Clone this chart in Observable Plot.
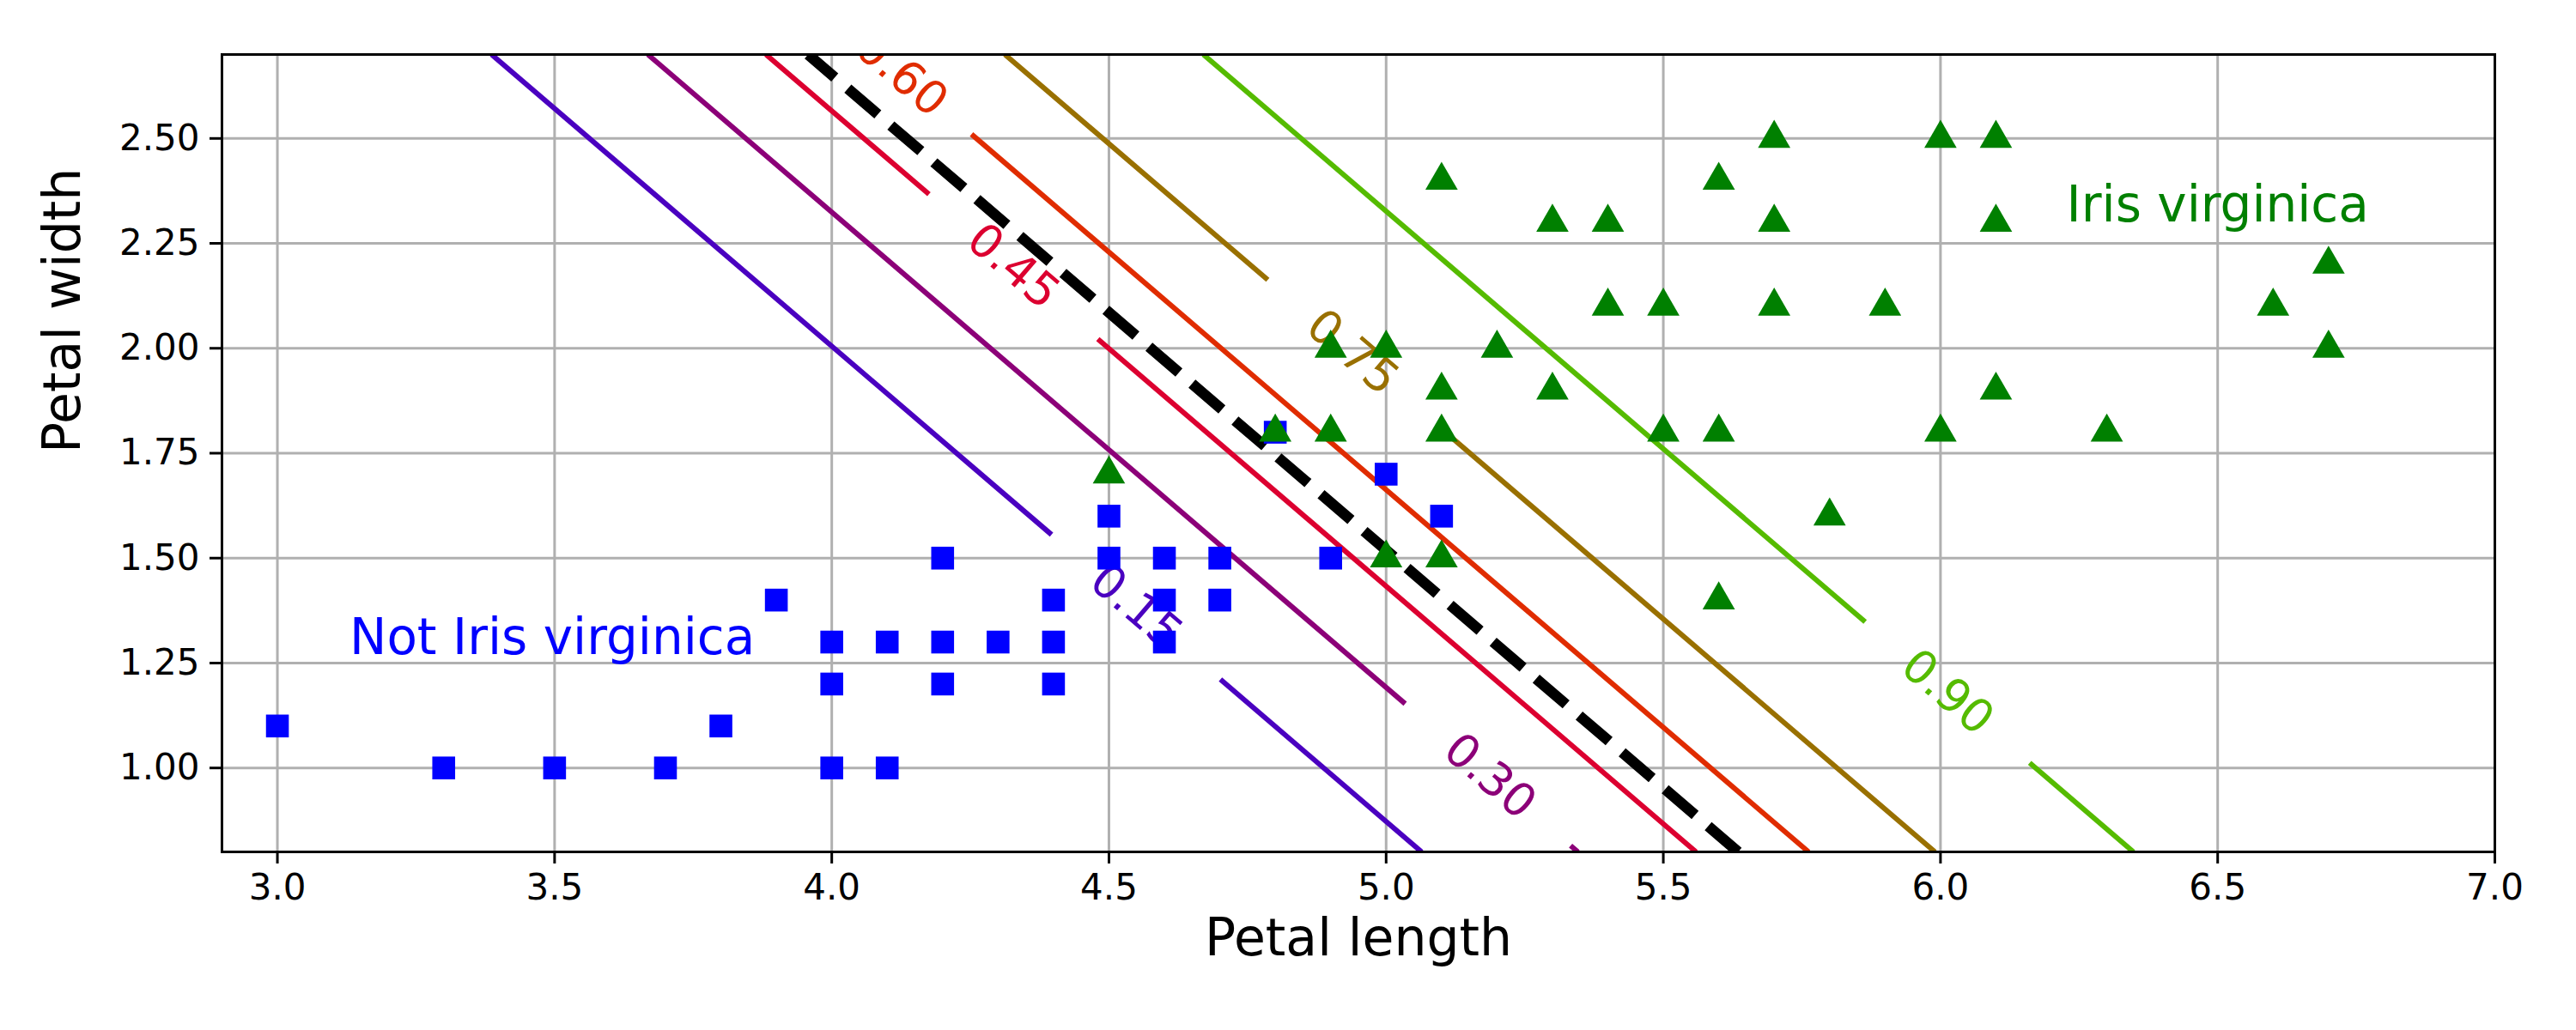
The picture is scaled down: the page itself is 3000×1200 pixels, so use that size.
<!DOCTYPE html>
<html>
<head>
<meta charset="utf-8">
<script src="https://cdn.jsdelivr.net/npm/d3@7"></script>
<script src="https://cdn.jsdelivr.net/npm/@observablehq/plot@0.6"></script>
<style>body{margin:0;background:#fff}</style>
</head>
<body>
<div id="chart"></div>
<script>
// blue squares: not Iris virginica
const notLen = [3.0,3.3,3.5,3.7,3.8,3.9,4.0,4.0,4.0,4.1,4.1,4.2,4.2,4.2,4.3,4.4,4.4,4.4,4.5,4.5,4.6,4.6,4.6,4.7,4.7,4.8,4.9,5.0,5.1];
const notWid = [1.1,1.0,1.0,1.0,1.1,1.4,1.3,1.2,1.0,1.3,1.0,1.5,1.3,1.2,1.3,1.4,1.3,1.2,1.6,1.5,1.5,1.4,1.3,1.5,1.4,1.8,1.5,1.7,1.6];
// green triangles: Iris virginica
const virLen = [4.5,4.8,4.9,4.9,5.0,5.0,5.1,5.1,5.1,5.1,5.2,5.3,5.3,5.4,5.4,5.5,5.5,5.6,5.6,5.6,5.7,5.7,5.7,5.8,5.9,6.0,6.0,6.1,6.1,6.1,6.3,6.6,6.7,6.7];
const virWid = [1.7,1.8,2.0,1.8,2.0,1.5,2.4,1.9,1.8,1.5,2.0,2.3,1.9,2.3,2.1,2.1,1.8,2.4,1.8,1.4,2.5,2.3,2.1,1.6,2.1,2.5,1.8,2.5,2.3,1.9,1.8,2.1,2.2,2.0];

// contour levels: petal length where each line meets width 0.8, and the line slope
const levels  = ["0.15","0.30","0.45","0.60","0.75","0.90"];
const xAtLow  = [5.064, 5.346, 5.559, 5.762, 5.990, 6.348];
const colors  = ["#4a00c0","#8c0078","#dc0030","#e02c00","#997000","#55bb00"];
const segs    = [[[0.8,1.211],[1.556,2.7]], [[0.8,0.815],[1.153,2.7]], [[0.8,2.022],[2.367,2.7]],
                 [[0.8,2.51]], [[0.8,1.818],[2.163,2.7]], [[0.8,1.012],[1.348,2.7]]];
const labelY  = [1.383, 0.98, 2.195, 2.653, 1.99, 1.18];
const boundaryXAtLow = 5.635;
const slope = 0.883; // petal length change per unit of petal width

const xAt = (xb, y) => xb - (y - 0.8) * slope;
const links = levels.flatMap((l, i) => segs[i].map(([a, b]) => ({
  x1: xAt(xAtLow[i], a), y1: a, x2: xAt(xAtLow[i], b), y2: b, c: colors[i]})));
const labels = levels.map((l, i) => ({x: xAt(xAtLow[i], labelY[i]), y: labelY[i], t: l, c: colors[i]}));
const notPts = notLen.map((x, i) => ({x, y: notWid[i]}));
const virPts = virLen.map((x, i) => ({x, y: virWid[i]}));

const chart = Plot.plot({
  width: 3000, height: 1200,
  marginLeft: 258, marginRight: 95, marginTop: 63, marginBottom: 208,
  style: {fontFamily: "DejaVu Sans", fontSize: "42px", background: "#fff"},
  x: {domain: [2.9, 7.0], ticks: d3.range(3, 7.01, 0.5), tickFormat: ".1f", label: null},
  y: {domain: [0.8, 2.7], ticks: d3.range(1, 2.51, 0.25), tickFormat: ".2f", label: null},
  marks: [
    Plot.gridX(d3.range(3, 7.01, 0.5), {stroke: "#b0b0b0", strokeOpacity: 1, strokeWidth: 3}),
    Plot.gridY(d3.range(1, 2.51, 0.25), {stroke: "#b0b0b0", strokeOpacity: 1, strokeWidth: 3}),
    Plot.axisX({ticks: d3.range(3, 7.01, 0.5), tickFormat: ".1f", tickSize: 14, strokeWidth: 3, tickPadding: 12, fontSize: 42, label: null}),
    Plot.axisY({ticks: d3.range(1, 2.51, 0.25), tickFormat: ".2f", tickSize: 14, strokeWidth: 3, tickPadding: 12, fontSize: 42, label: null}),
    Plot.link(links, {x1: "x1", y1: "y1", x2: "x2", y2: "y2", stroke: "c", strokeWidth: 6, clip: true}),
    Plot.link([{x1: xAt(boundaryXAtLow, 0.8), x2: xAt(boundaryXAtLow, 2.7)}],
      {x1: "x1", x2: "x2", y1: () => 0.8, y2: () => 2.7, stroke: "black", strokeWidth: 12.5,
       strokeDasharray: "46 20", clip: true}),
    Plot.text(labels, {x: "x", y: "y", text: "t", fill: "c", rotate: 40.6, fontSize: 54, clip: true}),
    Plot.dot(notPts, {x: "x", y: "y", symbol: "square", r: 15, fill: "#0000ff"}),
    Plot.dot(virPts, {x: "x", y: "y", symbol: "triangle", r: 14, fill: "#008000"}),
    Plot.text(["Not Iris virginica"], {x: 3.13, y: 1.31, text: d => d, fill: "#0000ff", fontSize: 58, textAnchor: "start"}),
    Plot.text(["Iris virginica"], {x: 6.5, y: 2.34, text: d => d, fill: "#008000", fontSize: 58}),
    Plot.text(["Petal length"], {frameAnchor: "bottom", dy: 120, text: d => d, fontSize: 60, fill: "black"}),
    Plot.text(["Petal width"], {frameAnchor: "left", dx: -185, rotate: -90, text: d => d, fontSize: 60, fill: "black"}),
    Plot.frame({stroke: "black", strokeWidth: 3})
  ]
});
d3.select("#chart").append(() => chart);
</script>
</body>
</html>
